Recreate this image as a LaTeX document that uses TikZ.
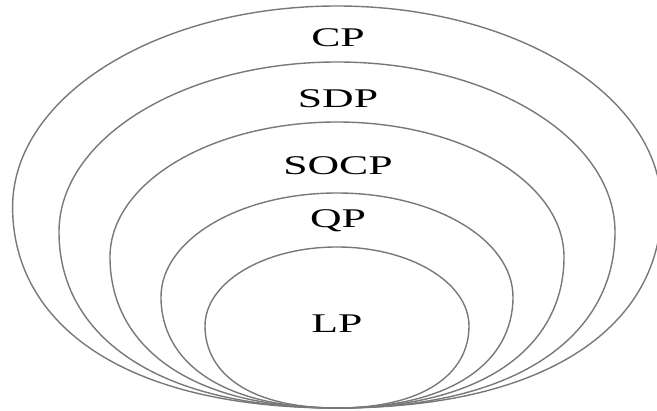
\documentclass[tikz,border=0pt]{standalone}
\usepackage{fontspec}
\setmainfont{Liberation Serif}
\usepackage{graphicx}
\definecolor{ringgray}{RGB}{120,120,120}
\tikzset{
  ring/.style={draw=ringgray, line width=1.4pt},
  setlabel/.style={anchor=base, inner sep=0pt, text=black,
    font=\fontsize{27}{30}\selectfont},
}
\newcommand{\wide}[1]{\scalebox{1.62}[1]{#1}}
% egg-like ring: #1 = y of widest point, #2 = half width, #3 = height of upper half
\newcommand{\eggring}[3]{%
  \draw[ring] ({337-#2},#1)
    arc[start angle=180, end angle=0, x radius=#2pt, y radius=#3pt]
    .. controls ({337+#2},{#1+0.58*(408-#1)}) and ({337+0.66*#2},408) .. (337,408)
    .. controls ({337-0.66*#2},408) and ({337-#2},{#1+0.58*(408-#1)}) .. cycle;}
\begin{document}
\begin{tikzpicture}[x=1pt,y=-1pt]
  \useasboundingbox (0,0) rectangle (657,411);
  \clip (0,0) rectangle (657,411);
  % nested rings, all meeting at the bottom point
  \eggring{207}{324.4}{201}
  \eggring{232}{278}{170}
  \eggring{257}{227}{135}
  \eggring{297}{176}{104}
  \eggring{326}{132}{79}
  % labels
  \node[setlabel] (cp)   at (338,47)  {\wide{CP}};
  \node[setlabel] (sdp)  at (338,108) {\wide{SDP}};
  \node[setlabel] (socp) at (338,175) {\wide{SOCP}};
  \node[setlabel] (qp)   at (338,228) {\wide{QP}};
  \node[setlabel] (lp)   at (337,333) {\wide{LP}};
\end{tikzpicture}
\end{document}
